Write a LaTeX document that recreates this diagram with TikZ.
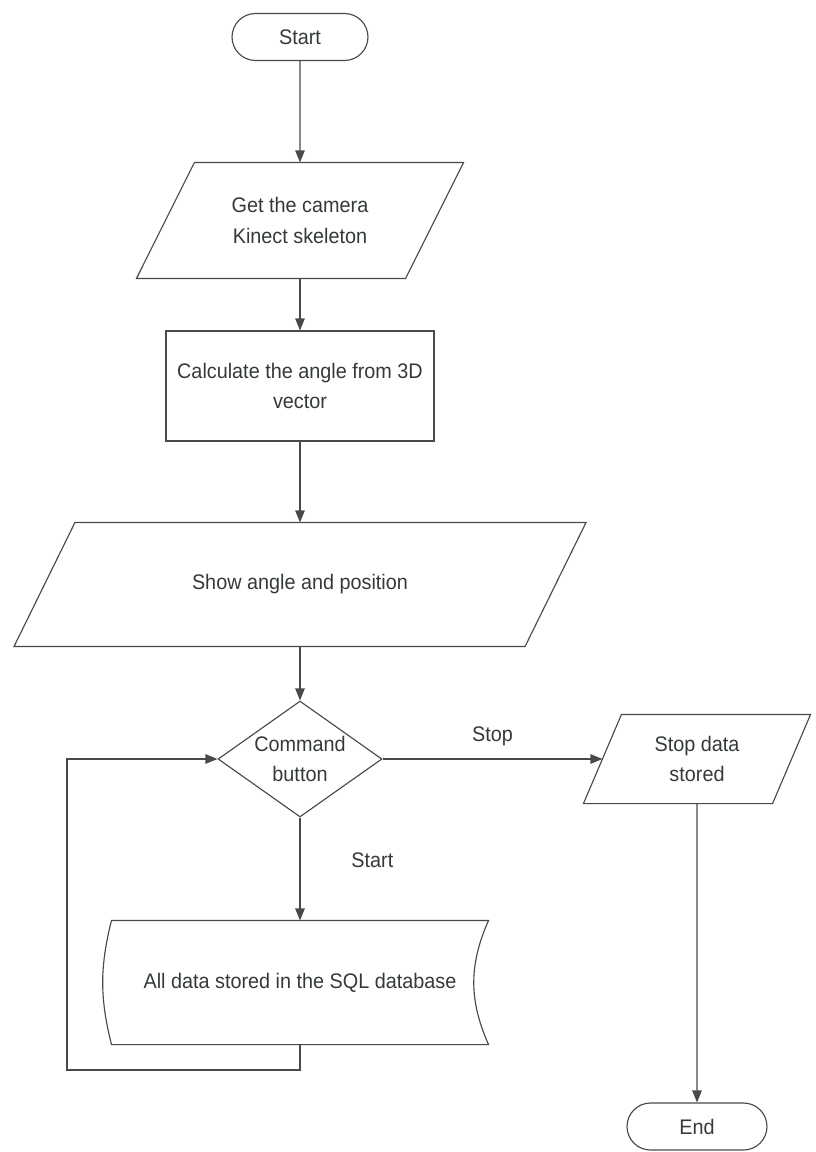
\documentclass[tikz,border=0pt]{standalone}
\usepackage{fontspec}
\setmainfont{Liberation Sans}[FakeStretch=0.94]
\usepackage{tikz}
\usetikzlibrary{positioning,arrows.meta,shapes.geometric,shapes.misc}
\definecolor{trazo}{RGB}{72,74,72}
\definecolor{texto}{RGB}{52,58,56}
% parallelogram outline round a box node: name, slant
\newcommand{\paralelo}[2]{%
  \draw[outline] ([xshift=#2]#1.north west) -- (#1.north east)
    -- ([xshift=-#2]#1.south east) -- (#1.south west) -- cycle;}

\begin{document}
\begin{tikzpicture}[x=0.02cm, y=-0.02cm,
  outline/.style={draw=trazo, line width=0.65pt},
  base/.style={outline, text=texto, align=center,
               font=\fontsize{12}{17.5}\selectfont},
  terminal/.style={base, rounded rectangle, minimum width=#1,
                   minimum height=0.94cm, inner sep=0pt},
  inout/.style={base, draw=none, rectangle, inner sep=0pt},
  process/.style={base, rectangle, inner sep=0pt},
  decision/.style={base, diamond, aspect=1.41, inner sep=0pt,
                   minimum width=3.28cm, minimum height=2.32cm},
  storage/.style={base, draw=none, rectangle, inner sep=0pt,
                  minimum width=7.52cm, minimum height=2.46cm},
  link/.style={outline, -{Triangle[length=2.4mm, width=1.9mm]}},
  lbl/.style={font=\fontsize{12}{17.5}\selectfont, text=texto}]
  \useasboundingbox (0,0) rectangle (815,1152);
  % main column
  \node[terminal=2.72cm] (ini) at (300,37) {Start};
  \node[inout, minimum width=6.52cm, minimum height=2.3cm]
       (cam) at (300,220.5) {Get the camera\\Kinect skeleton};
  \paralelo{cam}{1.16cm}
  \node[process, minimum width=5.36cm, minimum height=2.2cm]
       (cal) at (300,386) {Calculate the angle from 3D\\vector};
  \node[inout, minimum width=11.42cm, minimum height=2.46cm]
       (mos) at (300,584.5) {Show angle and position};
  \paralelo{mos}{1.22cm}
  \node[decision] (com) at (300,759) {Command\\button};
  \node[storage] (sql) at (300,982.5) {All data stored in the SQL database};
  \draw[outline] (sql.north west) to[bend right=14] (sql.south west)
     -- (sql.south east) to[bend left=24] (sql.north east) -- cycle;
  % right branch
  \node[inout, minimum width=4.52cm, minimum height=1.76cm]
       (par) at (697,759) {Stop data\\stored};
  \paralelo{par}{0.76cm}
  \node[terminal=2.8cm] (fin) at (697,1126.5) {End};
  \coordinate (giro) at (67,1070);
  % connectors
  \draw[link] (ini) -- (cam);
  \draw[link] (cam) -- (cal);
  \draw[link] (cal) -- (mos);
  \draw[link] (mos) -- (com);
  \draw[link] (com) -- ([xshift=0.38cm]par.west)
     node[lbl, midway, above=4pt] {Stop};
  \draw[link] (com) -- (sql) node[lbl, pos=0.41, right=0.9cm] {Start};
  \draw[link] (sql.south) |- (giro) |- (com.west);
  \draw[link] (par) -- (fin);
\end{tikzpicture}
\end{document}
